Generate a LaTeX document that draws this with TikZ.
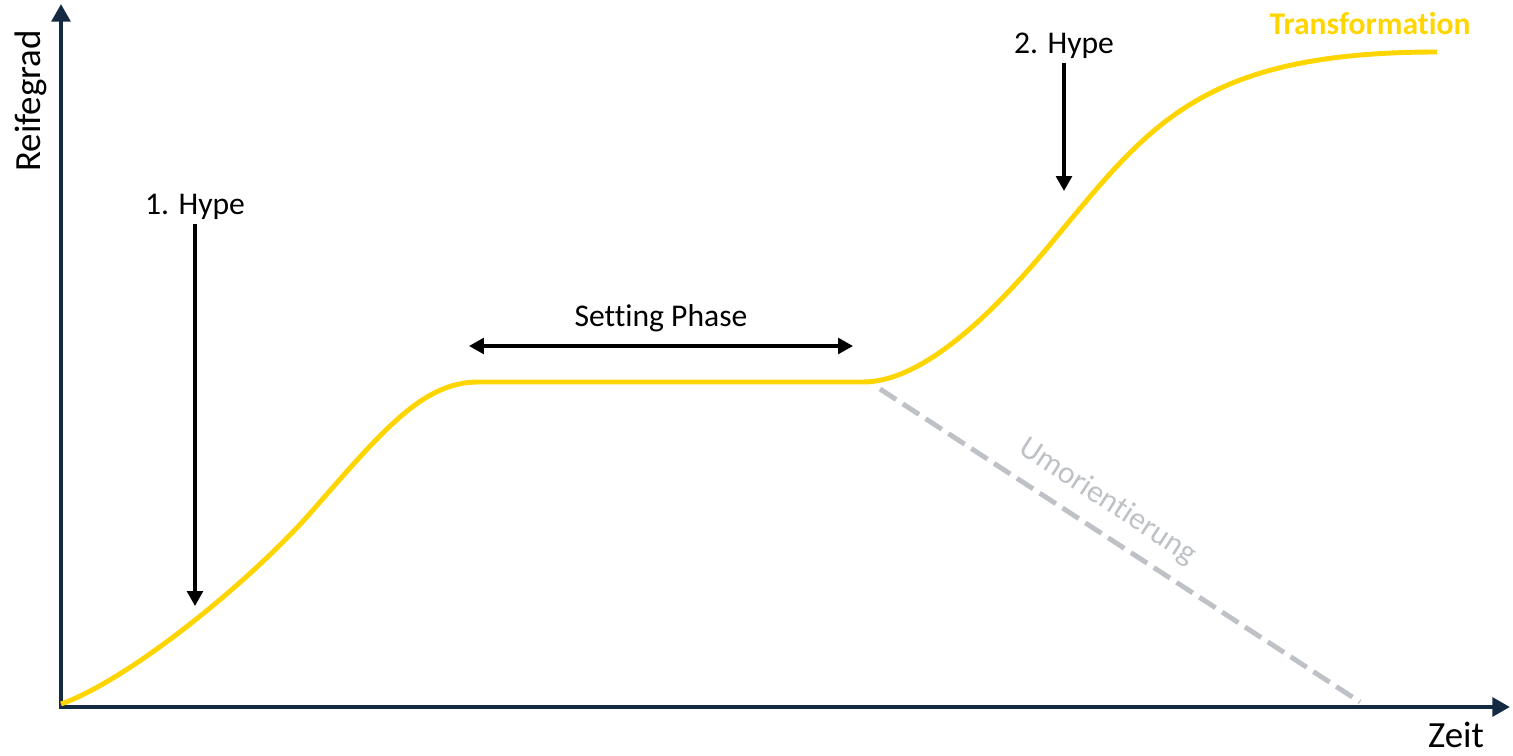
\documentclass[tikz,border=0pt]{standalone}
\usepackage{fontspec}
\setmainfont{Carlito}[Ligatures=NoCommon]
\usepackage{xcolor}
\usepackage{tikz}
\usetikzlibrary{arrows.meta}
\definecolor{axisblue}{RGB}{20,42,66}
\definecolor{hypeyellow}{RGB}{255,213,0}
\definecolor{fadegray}{RGB}{190,194,199}
\tikzset{
  lbl/.style={font=\fontsize{18}{22}\selectfont, inner sep=2pt},
  axlbl/.style={font=\fontsize{21}{25}\selectfont, inner sep=0pt},
  tag/.style={lbl, font=\fontsize{18}{22}\selectfont\bfseries, text=hypeyellow},
  axis/.style={{Triangle[length=10pt, width=10.5pt]}-{Triangle[length=10pt, width=10.5pt]},
               line width=2.6pt, draw=axisblue},
  curve/.style={line width=2.8pt, draw=hypeyellow, line join=round},
  edge/.style={-{Triangle[length=8.5pt, width=9pt]}, line width=1.8pt},
  dedge/.style={{Triangle[length=8.5pt, width=9pt]}-{Triangle[length=8.5pt, width=9pt]}, line width=1.8pt},
  branch/.style={line width=2.8pt, draw=fadegray, dash pattern=on 11pt off 4.5pt}
}

\begin{document}
\begin{tikzpicture}[x=0.02cm, y=-0.02cm]
  \useasboundingbox (0,0) rectangle (1513,756);

  % axes
  \coordinate (ytop) at (61,4);
  \coordinate (origin) at (61,707);
  \coordinate (xend) at (1510,707);
  \draw[axis] (ytop) -- (origin) -- (xend);
  \node[axlbl, rotate=90] (reife) at (31,101) {Reifegrad};
  \node[axlbl] (zeit) at (1456,735) {Zeit};

  % maturity curve
  \draw[curve] (61,704) .. controls (131,679) and (253,579) .. (313,510)
    .. controls (383,430) and (423,382) .. (478,382) -- (863,382)
    .. controls (923,382) and (993,313) .. (1048,247)
    .. controls (1148,127) and (1197,52) .. (1437,52);
  \node[tag] (trans) at (1370,24) {Transformation};

  % reorientation branch
  \coordinate (ubeg) at (880,389);
  \coordinate (uend) at (1360,702);
  \draw[branch] (ubeg) -- node[pos=0.44, sloped, above=6pt, lbl, text=fadegray] (umor) {Umorientierung} (uend);

  % hypes
  \node[lbl] (hype1) at (195,207) {1. Hype};
  \coordinate (hype1tip) at (195,606);
  \draw[edge] (hype1) -- (hype1tip);
  \node[lbl] (hype2) at (1064,46) {2. Hype};
  \coordinate (hype2tip) at (1064,191);
  \draw[edge] (hype2) -- (hype2tip);

  % setting phase
  \coordinate (setl) at (469,346);
  \coordinate (setr) at (853,346);
  \draw[dedge] (setl) -- (setr);
  \node[lbl] (setting) at (661,318) {Setting Phase};
\end{tikzpicture}
\end{document}
